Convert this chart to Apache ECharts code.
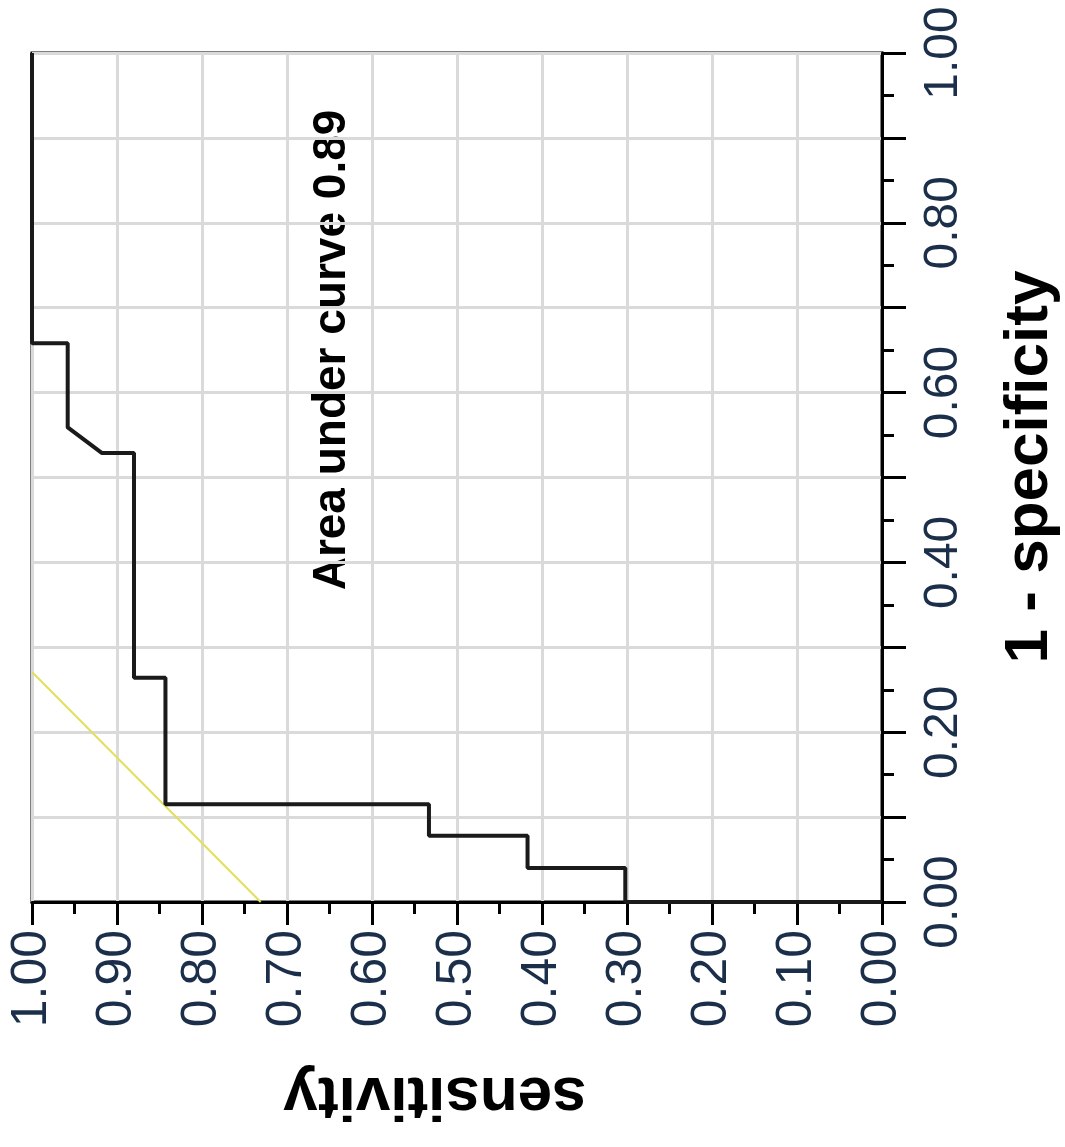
<!DOCTYPE html>
<html>
<head>
<meta charset="utf-8">
<script src="https://cdn.jsdelivr.net/npm/echarts@6/dist/echarts.min.js"></script>
<style>
  html, body { margin: 0; padding: 0; background: #fff; }
  #chart { width: 1065px; height: 1147px; }
</style>
</head>
<body>
<div id="chart"></div>
<script>
// ROC curve, drawn turned on its side: sensitivity runs 1 -> 0 along the bottom,
// 1 - specificity runs up the right-hand side
const rocSens = [1.0, 1.0, 0.958, 0.958, 0.918, 0.880, 0.880, 0.843, 0.843, 0.533, 0.533, 0.417, 0.417, 0.302, 0.302, 0.0]
const rocFpr = [1.0, 0.658, 0.658, 0.559, 0.529, 0.529, 0.264, 0.264, 0.115, 0.115, 0.078, 0.078, 0.040, 0.040, 0.0, 0.0]

// cut-off line touching the curve
const refSens = [1.0, 0.731]
const refFpr = [0.271, 0.0]

const aucText = 'Area under curve 0.89'
const xTitle = 'sensitivity'
const yTitle = '1 - specificity'

const labelColor = '#1c2f4a'
const gridColor = '#dadada'
const labelFont = 'Liberation Sans, Arial, sans-serif'

const chart = echarts.init(document.getElementById('chart'))

const zip = (a, b) => a.map((v, i) => [v, b[i]])

const option = {
  animation: false,
  backgroundColor: '#fff',
  grid: {
    left: 32,
    right: 183,
    top: 53,
    bottom: 245,
    show: true,
    borderColor: '#000',
    borderWidth: 3,
  },
  xAxis: {
    type: 'value',
    inverse: true,
    min: 0,
    max: 1,
    interval: 0.1,
    position: 'bottom',
    axisLine: { lineStyle: { color: '#000', width: 3 } },
    axisTick: { length: 23, lineStyle: { color: '#000', width: 3 } },
    minorTick: { show: true, splitNumber: 2, length: 12, lineStyle: { color: '#000', width: 3 } },
    axisLabel: {
      rotate: 90,
      margin: 28,
      fontSize: 50,
      fontFamily: labelFont,
      color: labelColor,
      showMinLabel: true,
      showMaxLabel: true,
      hideOverlap: false,
      formatter: (v) => v.toFixed(2),
    },
    splitLine: { show: true, lineStyle: { color: gridColor, width: 3 } },
  },
  yAxis: {
    type: 'value',
    min: 0,
    max: 1,
    interval: 0.1,
    position: 'right',
    axisLine: { show: true, lineStyle: { color: '#000', width: 3 } },
    axisTick: { show: true, length: 24, lineStyle: { color: '#000', width: 3 } },
    minorTick: { show: true, splitNumber: 2, length: 12, lineStyle: { color: '#000', width: 3 } },
    axisLabel: {
      rotate: 90,
      margin: 38,
      fontSize: 48,
      fontFamily: labelFont,
      color: labelColor,
      showMinLabel: true,
      showMaxLabel: true,
      hideOverlap: false,
      // only every second tick carries a label
      formatter: (v) => (Math.round(v * 10) % 2 === 0 ? v.toFixed(2) : ''),
    },
    splitLine: { show: true, lineStyle: { color: gridColor, width: 3 } },
  },
  series: [
    {
      type: 'line',
      data: zip(refSens, refFpr),
      symbol: 'none',
      lineStyle: { color: '#e3df5c', width: 2 },
      z: 3,
    },
    {
      type: 'line',
      data: zip(rocSens, rocFpr),
      symbol: 'none',
      lineStyle: { color: '#1a1a1a', width: 4 },
      z: 4,
    },
  ],
  graphic: [
    {
      type: 'text',
      x: 332,
      y: 350,
      rotation: Math.PI / 2,
      style: {
        text: aucText,
        font: 'bold 46px "Liberation Sans", Arial, sans-serif',
        fill: '#000',
        align: 'center',
        verticalAlign: 'middle',
      },
    },
    {
      type: 'text',
      x: 435,
      y: 1095,
      rotation: Math.PI,
      style: {
        text: xTitle,
        font: 'bold 62px "Liberation Sans", Arial, sans-serif',
        fill: '#000',
        align: 'center',
        verticalAlign: 'middle',
      },
    },
    {
      type: 'text',
      x: 1030,
      y: 467,
      rotation: Math.PI / 2,
      style: {
        text: yTitle,
        font: 'bold 62px "Liberation Sans", Arial, sans-serif',
        fill: '#000',
        align: 'center',
        verticalAlign: 'middle',
      },
    },
  ],
}

chart.setOption(option)
</script>
</body>
</html>
